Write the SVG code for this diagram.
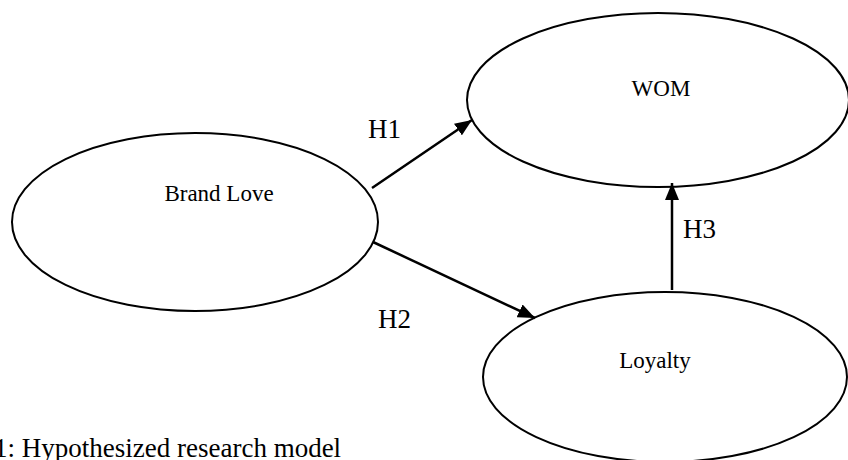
<svg xmlns="http://www.w3.org/2000/svg" width="848" height="460" viewBox="0 0 848 460">
<style>
.node{fill:#fff;stroke:#000;stroke-width:2}
.lbl{font-family:"Liberation Serif","Times New Roman",serif;font-size:23px;fill:#000}
.h{font-family:"Liberation Serif","Times New Roman",serif;font-size:27px;fill:#000}
.edge{stroke:#000;stroke-width:2.5;fill:none;marker-end:url(#arr)}
</style>
<defs>
<marker id="arr" markerUnits="userSpaceOnUse" markerWidth="18" markerHeight="14" refX="17" refY="7" orient="auto">
<path d="M0,0 L17,7 L0,14 z" fill="#000"/>
</marker>
</defs>
<rect width="848" height="460" fill="#fff"/>
<g id="brandlove">
<ellipse class="node" cx="195" cy="222" rx="183" ry="89"/>
<text class="lbl" x="219" y="201" text-anchor="middle">Brand Love</text>
</g>
<g id="wom">
<ellipse class="node" cx="658" cy="100" rx="191" ry="87"/>
<text class="lbl" x="661" y="96" text-anchor="middle">WOM</text>
</g>
<g id="loyalty">
<ellipse class="node" cx="665" cy="377" rx="182" ry="85"/>
<text class="lbl" x="655" y="368" text-anchor="middle">Loyalty</text>
</g>
<g id="connectors">
<line class="edge" x1="372" y1="188" x2="472" y2="120"/>
<line class="edge" x1="373" y1="242" x2="535" y2="318"/>
<line class="edge" x1="672" y1="290" x2="672" y2="183"/>
</g>
<g id="labels">
<text class="h" x="368" y="138">H1</text>
<text class="h" x="378" y="328">H2</text>
<text class="h" x="683" y="238">H3</text>
</g>
<text class="h" x="-6" y="457">1: Hypothesized research model</text>
</svg>
